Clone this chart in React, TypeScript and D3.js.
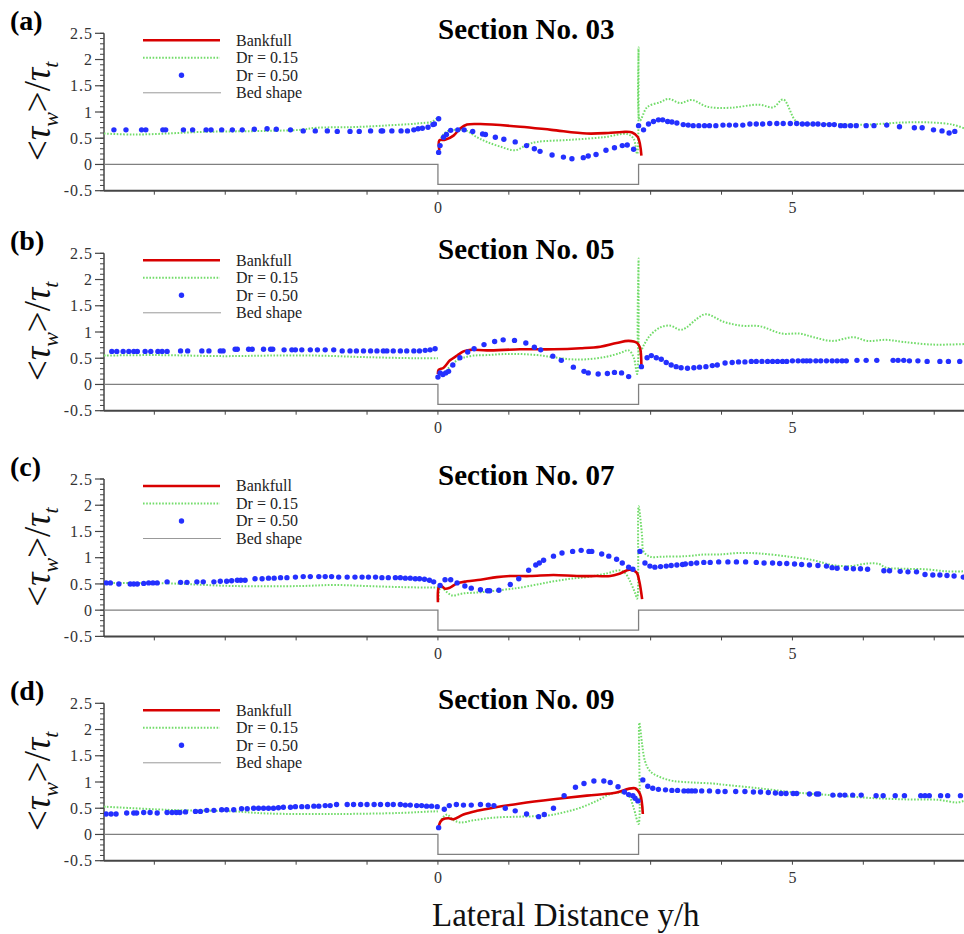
import React from 'react';
import * as d3 from 'd3';

type P = [number, number];

const sections = ['03', '05', '07', '09'];
const panelLabels = ['(a)', '(b)', '(c)', '(d)'];
const legendLabels = ['Bankfull', 'Dr = 0.15', 'Dr = 0.50', 'Bed shape'];
const yTicks = [-0.5, 0, 0.5, 1, 1.5, 2, 2.5];
const yTickLabels = ['-0.5', '0', '0.5', '1', '1.5', '2', '2.5'];
const xTicks = [-4, -3, -2, -1, 0, 1, 2, 3, 4, 5, 6, 7];
const xTickLabels = [0, 5];
const xDomain: P = [-4.71, 7.42];
const yDomain: P = [-0.5, 2.5];
const bedShape: P[] = [[-4.71, 0], [0, 0], [0, -0.38], [2.83, -0.38], [2.83, 0], [7.42, 0]];

// Section 03
const bankfull03: P[] = [[0.02,0.27],[0.02,0.46],[0.1,0.47],[0.22,0.55],[0.31,0.68],[0.41,0.76],[0.6,0.77],[1.16,0.72],[1.6,0.66],[2.1,0.59],[2.4,0.6],[2.6,0.62],[2.74,0.61],[2.82,0.52],[2.87,0.17]];
const dr015_03: P[] = [[-4.71,0.59],[-4.29,0.57],[-3.82,0.59],[-3.35,0.62],[-2.88,0.63],[-2.41,0.64],[-1.94,0.66],[-1.71,0.7],[-1.24,0.71],[-0.77,0.74],[-0.3,0.78],[-0.08,0.82],[0,0.9],[0,NaN],[0.01,0.26],[0.05,0.52],[0.13,0.63],[0.25,0.66],[0.39,0.65],[0.55,0.52],[0.69,0.43],[0.88,0.34],[1.09,0.27],[1.26,0.38],[1.4,0.43],[1.87,0.47],[2.34,0.52],[2.67,0.58],[2.76,0.49],[2.81,0.2],[2.83,2.23],[2.85,0.84],[2.95,1.09],[3.14,1.19],[3.25,1.25],[3.42,1.17],[3.58,1.23],[3.8,1.1],[4.12,1.08],[4.53,1.14],[4.73,1.09],[4.87,1.24],[5.04,0.84],[5.14,0.78],[5.6,0.77],[6.05,0.76],[6.56,0.8],[6.96,0.8],[7.26,0.76],[7.42,0.69]];
const dr050_03: P[] = [[-4.57,0.66],[-4.4,0.66],[-4.18,0.66],[-4.12,0.66],[-3.88,0.66],[-3.84,0.66],[-3.59,0.66],[-3.46,0.66],[-3.27,0.66],[-3.2,0.66],[-3.05,0.66],[-2.9,0.66],[-2.76,0.66],[-2.59,0.67],[-2.41,0.68],[-2.28,0.67],[-2.08,0.66],[-1.9,0.64],[-1.73,0.64],[-1.56,0.64],[-1.42,0.63],[-1.24,0.63],[-1.11,0.63],[-0.95,0.64],[-0.8,0.64],[-0.78,0.64],[-0.65,0.64],[-0.52,0.64],[-0.43,0.64],[-0.34,0.66],[-0.28,0.68],[-0.22,0.69],[-0.14,0.71],[-0.07,0.76],[-0.05,0.77],[0.01,0.87],
  [0.01,0.23],[0.03,0.36],[0.08,0.52],[0.12,0.57],[0.18,0.65],[0.28,0.66],[0.37,0.66],[0.49,0.63],[0.63,0.58],[0.67,0.57],[0.81,0.52],[0.93,0.48],[1.09,0.43],[1.25,0.36],[1.36,0.3],[1.44,0.25],[1.61,0.18],[1.77,0.14],[1.89,0.11],[2.05,0.13],[2.12,0.16],[2.23,0.19],[2.37,0.27],[2.49,0.32],[2.6,0.36],[2.67,0.37],[2.76,0.29],
  [2.83,0.74],[2.9,0.66],[2.97,0.77],[3.04,0.82],[3.11,0.85],[3.17,0.85],[3.24,0.82],[3.3,0.81],[3.37,0.79],[3.46,0.76],[3.53,0.75],[3.6,0.74],[3.68,0.74],[3.76,0.74],[3.83,0.74],[3.92,0.74],[4.02,0.75],[4.11,0.75],[4.2,0.75],[4.3,0.75],[4.4,0.77],[4.49,0.77],[4.58,0.77],[4.68,0.78],[4.78,0.78],[4.87,0.78],[4.97,0.78],[5.06,0.78],[5.14,0.77],[5.21,0.77],[5.29,0.77],[5.36,0.77],[5.44,0.76],[5.52,0.76],[5.59,0.76],[5.68,0.74],[5.74,0.74],[5.82,0.74],[5.9,0.74],[6.04,0.74],[6.15,0.74],[6.33,0.75],[6.51,0.72],[6.72,0.7],[6.83,0.7],[6.99,0.66],[7.11,0.64],[7.21,0.6],[7.29,0.63]];

// Section 05
const bankfull05: P[] = [[0,0.2],[0.01,0.28],[0.08,0.32],[0.17,0.46],[0.27,0.55],[0.36,0.63],[0.46,0.66],[0.69,0.65],[1.16,0.67],[1.63,0.67],[2.01,0.69],[2.29,0.72],[2.52,0.79],[2.69,0.83],[2.81,0.79],[2.85,0.7],[2.87,0.33]];
const dr015_05: P[] = [[-4.71,0.55],[-4.0,0.56],[-3.0,0.54],[-2.4,0.55],[-1.7,0.55],[-1.0,0.52],[-0.3,0.5],[0,0.5],[0,NaN],[0.01,0.14],[0.08,0.2],[0.17,0.34],[0.27,0.46],[0.36,0.51],[0.5,0.55],[0.69,0.56],[0.93,0.58],[1.16,0.58],[1.4,0.56],[1.63,0.52],[1.87,0.48],[2.1,0.48],[2.38,0.53],[2.57,0.6],[2.69,0.65],[2.76,0.52],[2.81,0.2],[2.83,2.4],[2.84,0.58],[2.9,0.74],[2.99,0.93],[3.14,1.09],[3.28,1.12],[3.42,1.04],[3.51,1.09],[3.65,1.25],[3.78,1.34],[4.04,1.19],[4.29,1.12],[4.54,1.11],[4.85,0.97],[5.1,0.97],[5.3,0.9],[5.56,0.83],[5.86,0.9],[6.06,0.83],[6.32,0.85],[6.57,0.81],[6.98,0.76],[7.42,0.77]];
const dr050_05: P[] = [[-4.6,0.63],[-4.53,0.63],[-4.44,0.63],[-4.36,0.63],[-4.29,0.63],[-4.24,0.63],[-4.13,0.63],[-4.05,0.63],[-3.95,0.63],[-3.89,0.63],[-3.82,0.63],[-3.63,0.64],[-3.53,0.64],[-3.33,0.64],[-3.23,0.64],[-3.07,0.64],[-3.03,0.64],[-2.86,0.67],[-2.83,0.67],[-2.67,0.67],[-2.62,0.67],[-2.46,0.67],[-2.36,0.67],[-2.33,0.67],[-2.17,0.66],[-2.06,0.66],[-2.01,0.66],[-1.92,0.66],[-1.8,0.66],[-1.7,0.66],[-1.59,0.66],[-1.47,0.66],[-1.35,0.64],[-1.24,0.64],[-1.15,0.64],[-1.05,0.64],[-0.95,0.64],[-0.86,0.64],[-0.77,0.64],[-0.72,0.64],[-0.63,0.64],[-0.53,0.64],[-0.44,0.64],[-0.34,0.64],[-0.26,0.64],[-0.18,0.65],[-0.11,0.66],[-0.04,0.68],
  [0,0.14],[0.03,0.22],[0.07,0.19],[0.11,0.22],[0.15,0.25],[0.21,0.37],[0.31,0.51],[0.42,0.62],[0.51,0.68],[0.65,0.76],[0.8,0.82],[0.92,0.85],[1.08,0.84],[1.24,0.79],[1.36,0.71],[1.45,0.66],[1.62,0.54],[1.74,0.46],[1.91,0.33],[2.06,0.25],[2.12,0.22],[2.26,0.2],[2.39,0.21],[2.49,0.23],[2.59,0.22],[2.69,0.15],
  [2.87,0.34],[2.95,0.51],[3.01,0.55],[3.08,0.51],[3.15,0.48],[3.22,0.42],[3.29,0.37],[3.36,0.34],[3.43,0.32],[3.52,0.31],[3.61,0.32],[3.69,0.33],[3.78,0.34],[3.87,0.36],[3.94,0.37],[4.05,0.41],[4.15,0.42],[4.24,0.43],[4.33,0.43],[4.42,0.44],[4.49,0.44],[4.57,0.44],[4.65,0.44],[4.72,0.44],[4.79,0.44],[4.86,0.44],[4.92,0.44],[5.0,0.45],[5.08,0.45],[5.15,0.45],[5.2,0.45],[5.25,0.45],[5.33,0.45],[5.4,0.45],[5.48,0.45],[5.56,0.45],[5.63,0.45],[5.7,0.45],[5.76,0.45],[5.91,0.46],[6.04,0.46],[6.19,0.46],[6.42,0.46],[6.49,0.46],[6.57,0.46],[6.65,0.45],[6.77,0.45],[6.9,0.44],[7.08,0.44],[7.2,0.44],[7.36,0.44]];

// Section 07
const bankfull07: P[] = [[0,0.15],[0.01,0.43],[0.04,0.47],[0.1,0.41],[0.17,0.43],[0.27,0.51],[0.41,0.55],[0.6,0.58],[0.83,0.63],[1.02,0.65],[1.3,0.65],[1.63,0.67],[1.96,0.65],[2.24,0.65],[2.43,0.65],[2.57,0.7],[2.7,0.77],[2.8,0.72],[2.84,0.55],[2.88,0.21]];
const dr015_07: P[] = [[-4.71,0.52],[-3.8,0.51],[-2.88,0.46],[-1.94,0.46],[-1.47,0.48],[-1.0,0.46],[-0.53,0.44],[-0.06,0.43],[0,0.43],[0,NaN],[0.01,0.2],[0.02,0.39],[0.05,0.43],[0.13,0.34],[0.2,0.28],[0.36,0.32],[0.6,0.34],[0.93,0.39],[1.16,0.43],[1.4,0.49],[1.63,0.55],[1.87,0.6],[2.1,0.63],[2.38,0.7],[2.56,0.76],[2.64,0.71],[2.71,0.55],[2.78,0.33],[2.81,0.22],[2.83,1.98],[2.88,1.41],[2.9,1.12],[2.99,1.02],[3.18,1.02],[3.51,1.03],[3.75,1.06],[3.96,1.06],[4.24,1.09],[4.54,1.08],[4.95,1.02],[5.3,0.95],[5.56,0.86],[5.81,0.84],[6.06,0.89],[6.22,0.88],[6.32,0.81],[6.57,0.79],[6.87,0.78],[7.18,0.74],[7.42,0.74]];
const dr050_07: P[] = [[-4.68,0.52],[-4.62,0.52],[-4.5,0.5],[-4.34,0.5],[-4.29,0.5],[-4.24,0.5],[-4.15,0.51],[-4.08,0.52],[-4.02,0.52],[-3.96,0.52],[-3.82,0.54],[-3.63,0.53],[-3.54,0.53],[-3.4,0.54],[-3.31,0.54],[-3.16,0.54],[-3.07,0.55],[-2.98,0.55],[-2.91,0.56],[-2.83,0.57],[-2.78,0.57],[-2.72,0.57],[-2.58,0.6],[-2.48,0.6],[-2.39,0.61],[-2.31,0.61],[-2.22,0.62],[-2.13,0.62],[-2.01,0.63],[-1.9,0.64],[-1.8,0.64],[-1.68,0.64],[-1.59,0.64],[-1.5,0.64],[-1.4,0.63],[-1.28,0.63],[-1.17,0.63],[-1.07,0.63],[-0.98,0.63],[-0.88,0.63],[-0.79,0.62],[-0.7,0.62],[-0.6,0.62],[-0.53,0.62],[-0.46,0.61],[-0.39,0.61],[-0.32,0.6],[-0.26,0.6],[-0.19,0.59],[-0.12,0.57],[-0.06,0.54],
  [0.03,0.47],[0.1,0.58],[0.18,0.58],[0.27,0.52],[0.38,0.46],[0.47,0.42],[0.6,0.39],[0.7,0.37],[0.73,0.37],[0.86,0.38],[1.02,0.49],[1.14,0.6],[1.28,0.76],[1.38,0.86],[1.43,0.9],[1.49,0.95],[1.63,1.03],[1.75,1.09],[1.9,1.12],[2.02,1.14],[2.13,1.12],[2.17,1.12],[2.31,1.07],[2.41,1.03],[2.52,0.97],[2.6,0.9],[2.69,0.82],[2.75,0.78],
  [2.85,1.12],[2.92,0.9],[2.99,0.84],[3.06,0.82],[3.14,0.83],[3.22,0.84],[3.29,0.85],[3.37,0.86],[3.45,0.87],[3.49,0.88],[3.57,0.89],[3.65,0.9],[3.75,0.91],[3.84,0.91],[3.96,0.92],[4.09,0.92],[4.21,0.92],[4.34,0.92],[4.49,0.91],[4.6,0.9],[4.72,0.9],[4.82,0.89],[4.92,0.89],[5.03,0.88],[5.13,0.87],[5.24,0.86],[5.36,0.85],[5.48,0.84],[5.56,0.81],[5.63,0.8],[5.76,0.8],[5.86,0.79],[5.96,0.79],[6.06,0.78],[6.29,0.75],[6.37,0.75],[6.52,0.74],[6.63,0.73],[6.75,0.73],[6.87,0.68],[6.98,0.67],[7.08,0.67],[7.18,0.66],[7.28,0.65],[7.41,0.63]];

// Section 09
const bankfull09: P[] = [[0.01,0.13],[0.03,0.23],[0.07,0.29],[0.15,0.31],[0.22,0.29],[0.36,0.38],[0.55,0.45],[0.78,0.51],[1.16,0.59],[1.63,0.67],[2.1,0.74],[2.48,0.79],[2.78,0.88],[2.85,0.77],[2.89,0.39]];
const dr015_09: P[] = [[-4.71,0.53],[-3.82,0.47],[-2.88,0.44],[-2.41,0.4],[-1.47,0.39],[-0.53,0.41],[-0.06,0.44],[0,0.44],[0,NaN],[0.01,0.17],[0.05,0.29],[0.13,0.38],[0.2,0.29],[0.31,0.23],[0.5,0.27],[0.78,0.32],[1.16,0.34],[1.54,0.36],[1.77,0.42],[2.01,0.51],[2.24,0.64],[2.43,0.77],[2.57,0.8],[2.69,0.74],[2.76,0.51],[2.83,0.2],[2.84,2.13],[2.88,1.72],[2.92,1.4],[2.99,1.21],[3.14,1.09],[3.32,1.02],[3.6,0.99],[3.89,0.97],[4.02,0.95],[4.53,0.88],[5.04,0.8],[5.54,0.75],[6.05,0.7],[6.56,0.67],[7.06,0.66],[7.32,0.61],[7.42,0.64]];
const dr050_09: P[] = [[-4.68,0.39],[-4.61,0.39],[-4.54,0.39],[-4.39,0.41],[-4.29,0.41],[-4.25,0.41],[-4.15,0.42],[-4.06,0.42],[-3.96,0.41],[-3.82,0.42],[-3.75,0.42],[-3.69,0.42],[-3.64,0.42],[-3.56,0.43],[-3.42,0.44],[-3.35,0.44],[-3.26,0.46],[-3.16,0.46],[-3.05,0.47],[-2.98,0.47],[-2.88,0.47],[-2.77,0.49],[-2.69,0.49],[-2.6,0.5],[-2.53,0.5],[-2.46,0.5],[-2.39,0.5],[-2.32,0.5],[-2.25,0.51],[-2.18,0.52],[-2.08,0.52],[-2.01,0.53],[-1.92,0.53],[-1.84,0.53],[-1.75,0.54],[-1.68,0.54],[-1.59,0.55],[-1.52,0.55],[-1.43,0.57],[-1.28,0.57],[-1.19,0.57],[-1.09,0.57],[-1.0,0.57],[-0.9,0.57],[-0.81,0.57],[-0.71,0.57],[-0.63,0.57],[-0.53,0.57],[-0.46,0.56],[-0.39,0.56],[-0.3,0.55],[-0.23,0.55],[-0.16,0.54],[-0.09,0.54],[-0.01,0.53],
  [0.01,0.13],[0.09,0.48],[0.16,0.55],[0.26,0.57],[0.36,0.56],[0.47,0.56],[0.6,0.57],[0.71,0.56],[0.79,0.55],[0.95,0.5],[1.09,0.45],[1.25,0.39],[1.42,0.34],[1.5,0.38],[1.63,0.5],[1.78,0.74],[1.94,0.9],[2.06,0.97],[2.2,1.02],[2.34,1.02],[2.43,0.99],[2.54,0.91],[2.63,0.81],[2.69,0.76],[2.75,0.74],[2.78,0.69],[2.82,0.64],
  [2.89,1.04],[2.96,0.92],[3.03,0.88],[3.11,0.86],[3.21,0.85],[3.3,0.84],[3.38,0.84],[3.47,0.83],[3.53,0.83],[3.58,0.83],[3.63,0.83],[3.72,0.83],[3.83,0.83],[3.95,0.82],[4.05,0.82],[4.2,0.82],[4.33,0.82],[4.45,0.81],[4.55,0.81],[4.66,0.8],[4.76,0.79],[4.84,0.78],[4.91,0.78],[5.01,0.78],[5.06,0.78],[5.24,0.77],[5.34,0.77],[5.37,0.77],[5.57,0.75],[5.67,0.75],[5.74,0.75],[5.85,0.75],[5.97,0.75],[6.18,0.74],[6.28,0.74],[6.45,0.74],[6.58,0.74],[6.81,0.74],[6.87,0.74],[6.93,0.74],[7.09,0.74],[7.19,0.74],[7.37,0.74]];

const bankfullSeries = [bankfull03, bankfull05, bankfull07, bankfull09];
const dr015Series = [dr015_03, dr015_05, dr015_07, dr015_09];
const dr050Series = [dr050_03, dr050_05, dr050_07, dr050_09];

const W = 964;
const H = 934;
const LEFT = 104;
const RIGHT = 964;
const PANEL_TOPS = [33.3, 253.3, 479, 703.3];
const PANEL_H = 157.4;
const SERIF = "'Liberation Serif', 'Times New Roman', serif";
const RED = '#d80000';
const GREEN = '#72dc6a';
const BLUE = '#2430ff';
const BED = '#808080';
const AXIS = '#454545';

function Panel({ idx }: { idx: number }) {
  const top = PANEL_TOPS[idx];
  const x = d3.scaleLinear().domain(xDomain).range([LEFT, RIGHT]);
  const y = d3.scaleLinear().domain(yDomain).range([top + PANEL_H, top]);
  const line = d3
    .line<P>()
    .defined((d) => !isNaN(d[1]))
    .x((d) => x(d[0]))
    .y((d) => y(d[1]))
    .curve(d3.curveCatmullRom.alpha(0.5));
  const lin = d3.line<P>().x((d) => x(d[0])).y((d) => y(d[1]));
  const minorTicks = d3.range(-0.5, 2.5001, 0.1);
  const clipId = `clip${idx}`;
  const legY = [top + 7, top + 24.5, top + 42, top + 59.5];
  const axisY = y(-0.5);
  return (
    <g>
      <defs>
        <clipPath id={clipId}>
          <rect x={LEFT} y={top - 2} width={RIGHT - LEFT} height={PANEL_H + 2} />
        </clipPath>
      </defs>
      <text x={10} y={top - 3} fontFamily={SERIF} fontWeight="bold" fontSize={28}>
        {panelLabels[idx]}
      </text>
      <text x={438} y={top + 6} fontFamily={SERIF} fontWeight="bold" fontSize={29}>
        {`Section No. ${sections[idx]}`}
      </text>
      {/* y axis */}
      <line x1={LEFT} x2={LEFT} y1={top} y2={axisY} stroke={AXIS} strokeWidth={1.5} />
      {minorTicks.map((t, i) => (
        <line key={'m' + i} x1={LEFT - 4} x2={LEFT} y1={y(t)} y2={y(t)} stroke={AXIS} strokeWidth={1} />
      ))}
      {yTicks.map((t, i) => (
        <g key={'y' + i}>
          <line x1={LEFT - 9} x2={LEFT} y1={y(t)} y2={y(t)} stroke={AXIS} strokeWidth={1.2} />
          <text
            x={LEFT - 11}
            y={y(t)}
            dy="0.35em"
            textAnchor="end"
            fontFamily={SERIF}
            fontSize={16}
            letterSpacing={1}
            fill="#333"
          >
            {yTickLabels[i]}
          </text>
        </g>
      ))}
      {/* x axis */}
      <line x1={LEFT} x2={RIGHT} y1={axisY} y2={axisY} stroke={AXIS} strokeWidth={2} />
      {xTicks.map((t) => (
        <line key={'x' + t} x1={x(t)} x2={x(t)} y1={axisY} y2={axisY + 4} stroke={AXIS} strokeWidth={1} />
      ))}
      {xTickLabels.map((t) => (
        <text key={'xl' + t} x={x(t)} y={axisY + 22.5} textAnchor="middle" fontFamily={SERIF} fontSize={16} fill="#333">
          {t}
        </text>
      ))}
      {/* y title */}
      <text
        transform={`translate(50, ${top + 78}) rotate(-90)`}
        textAnchor="middle"
        fontFamily={SERIF}
        fontSize={37}
        fill="#111"
      >
        <tspan>&lt;</tspan>
        <tspan fontStyle="italic">τ</tspan>
        <tspan fontStyle="italic" fontSize={22} dy={8}>w</tspan>
        <tspan dy={-8}>&gt;/</tspan>
        <tspan fontStyle="italic">τ</tspan>
        <tspan fontStyle="italic" fontSize={22} dy={8}>t</tspan>
      </text>
      <g clipPath={`url(#${clipId})`}>
        <path d={lin(bedShape) || ''} fill="none" stroke={BED} strokeWidth={1.3} />
        <path
          d={line(dr015Series[idx]) || ''}
          fill="none"
          stroke={GREEN}
          strokeWidth={2}
          strokeDasharray="1.6 1.6"
        />
        <path d={line(bankfullSeries[idx]) || ''} fill="none" stroke={RED} strokeWidth={2.6} />
        {dr050Series[idx].map((d, i) => (
          <circle key={'b' + i} cx={x(d[0])} cy={y(d[1])} r={2.7} fill={BLUE} />
        ))}
      </g>
      {/* legend */}
      <line x1={143} x2={220} y1={legY[0]} y2={legY[0]} stroke={RED} strokeWidth={2.6} />
      <line x1={143} x2={220} y1={legY[1]} y2={legY[1]} stroke={GREEN} strokeWidth={2} strokeDasharray="1.6 1.6" />
      <circle cx={181.5} cy={legY[2]} r={2.7} fill={BLUE} />
      <line x1={143} x2={221} y1={legY[3]} y2={legY[3]} stroke="#999" strokeWidth={1} />
      {legendLabels.map((l, i) => (
        <text key={'l' + i} x={236} y={legY[i]} dy="0.33em" fontFamily={SERIF} fontSize={16} fill="#222">
          {l}
        </text>
      ))}
    </g>
  );
}

export default function App() {
  return (
    <div style={{ position: 'absolute', left: 0, top: 0 }}>
      <svg width={W} height={H} viewBox={`0 0 ${W} ${H}`} style={{ display: 'block', background: '#fff' }}>
        {sections.map((_, i) => (
          <Panel key={i} idx={i} />
        ))}
        <text x={432} y={926} fontFamily={SERIF} fontSize={33} fill="#111">
          Lateral Distance y/h
        </text>
      </svg>
    </div>
  );
}
